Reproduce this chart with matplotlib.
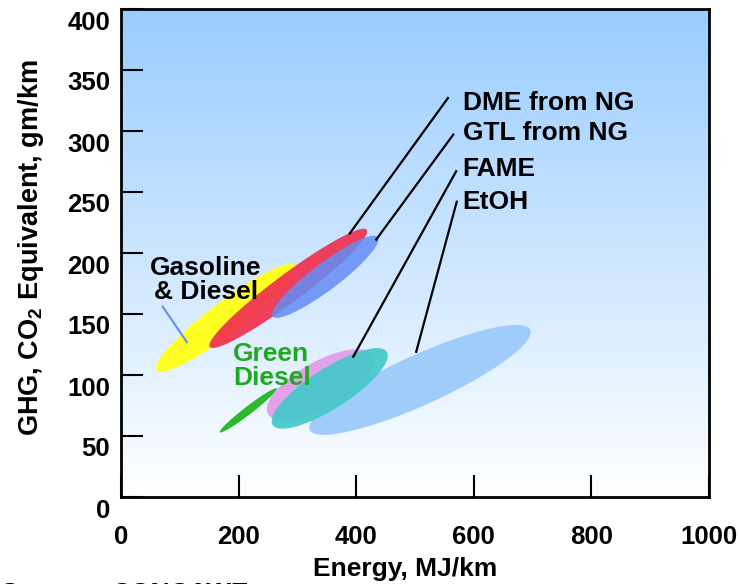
import numpy as np
import matplotlib
matplotlib.use('Agg')
import matplotlib.pyplot as plt
import matplotlib.transforms as mtransforms
from matplotlib.colors import LinearSegmentedColormap
from matplotlib.patches import Polygon

plt.rcParams['font.family'] = ['Liberation Sans', 'DejaVu Sans']
plt.rcParams['font.weight'] = 'bold'
plt.rcParams['mathtext.fontset'] = 'custom'
plt.rcParams['mathtext.rm'] = 'Liberation Sans:bold'
plt.rcParams['mathtext.bf'] = 'Liberation Sans:bold'

# fuel ranges: (energy, ghg) at both ends of each ellipse, MJ/km and g/km
fuels = ['EtOH', 'Gasoline & Diesel', 'DME from NG', 'GTL from NG',
         'Green Diesel', 'FAME (pink)', 'FAME']
e_lo = [321, 61, 151, 258, 168, 250, 258]
g_lo = [55, 104, 123, 148, 53, 68, 59]
e_hi = [696, 296, 418, 437, 265, 428, 452]
g_hi = [137, 190, 219, 213, 89, 116, 119]
band = [50, 32, 28, 27, 8, 46, 40]   # ellipse thickness, px
colors = ['#A0CCFA', '#FFFF22', '#F03050', '#648CF5', '#2DB82D', '#E2A2EA', '#40C8C8']
alphas = [1.0, 1.0, 0.92, 0.85, 1.0, 1.0, 0.9]

# callouts: label, text anchor, line end
callouts = ['DME from NG', 'GTL from NG', 'FAME', 'EtOH']
call_tx = [581, 582, 581, 581]
call_ty = [323, 298, 269, 242]
line_x0 = [556, 565, 570, 571]
line_y0 = [327, 297, 267, 242]
line_x1 = [389, 434, 395, 502]
line_y1 = [216, 211, 115, 119]

fig = plt.figure(figsize=(7.4, 5.84), dpi=100)
ax = fig.add_axes([121 / 740, 87 / 584, 588 / 740, 488 / 584])
ax.set_xlim(0, 1000)
ax.set_ylim(0, 400)

cmap = LinearSegmentedColormap.from_list('bg', ['#FFFFFF', '#99CCFF'])
grad = np.linspace(0, 1, 256)[:, None]
ax.imshow(grad, extent=[0, 1000, 0, 400], origin='lower', aspect='auto',
          cmap=cmap, zorder=0)

t = np.linspace(0, 2 * np.pi, 200)
for i in range(len(fuels)):
    p0 = ax.transData.transform((e_lo[i], g_lo[i]))
    p1 = ax.transData.transform((e_hi[i], g_hi[i]))
    c = (p0 + p1) / 2
    u = (p1 - p0) / 2
    n = np.array([-u[1], u[0]]) / np.hypot(*u) * band[i] / 2
    pts = c + np.outer(np.cos(t), u) + np.outer(np.sin(t), n)
    pts = ax.transData.inverted().transform(pts)
    ax.add_patch(Polygon(pts, closed=True, facecolor=colors[i], edgecolor='none',
                         alpha=alphas[i], zorder=2 + i))

for i in range(len(callouts)):
    ax.plot([line_x0[i], line_x1[i]], [line_y0[i], line_y1[i]], color='black',
            lw=1.6, zorder=10)
    ax.text(call_tx[i], call_ty[i], callouts[i], fontsize=19, fontweight='bold',
            ha='left', va='center', zorder=11)

ax.plot([71, 112], [156, 127], color='#648CF5', lw=1.5, zorder=10)
ax.text(144, 178, 'Gasoline\n& Diesel', fontsize=19, fontweight='bold',
        ha='center', va='center', linespacing=1.0, zorder=11)
ax.text(191, 107, 'Green\nDiesel', fontsize=19, fontweight='bold', color='#1DAA1D',
        ha='left', va='center', linespacing=1.0, zorder=11)

ax.set_xticks([0, 200, 400, 600, 800, 1000])
ax.set_yticks([0, 50, 100, 150, 200, 250, 300, 350, 400])
ax.tick_params(axis='both', direction='in', length=16, width=1.5,
               labelsize=18.5, colors='black')
ax.tick_params(axis='x', pad=20)
ax.tick_params(axis='y', pad=8)
offset = mtransforms.ScaledTranslation(0, -0.11, fig.dpi_scale_trans)
for lab in ax.get_yticklabels():
    lab.set_transform(lab.get_transform() + offset)
for lab in ax.get_xticklabels() + ax.get_yticklabels():
    lab.set_fontweight('bold')
for sp in ax.spines.values():
    sp.set_linewidth(2)

ax.set_xlabel('Energy, MJ/km', fontsize=19, fontweight='bold')
ax.xaxis.set_label_coords(0.483, -0.122)
ax.set_ylabel(r'GHG, CO$_\mathbf{2}$ Equivalent, gm/km', fontsize=19.5, fontweight='bold')
ax.yaxis.set_label_coords(-0.128, 0.51)

fig.text(0, 2 / 584, 'Source:', fontsize=19, fontweight='bold', ha='left', va='top')
fig.text(112 / 740, 2 / 584, 'CONCAWE', fontsize=19, fontweight='bold', ha='left', va='top')

fig.savefig('out.png', dpi=100)
